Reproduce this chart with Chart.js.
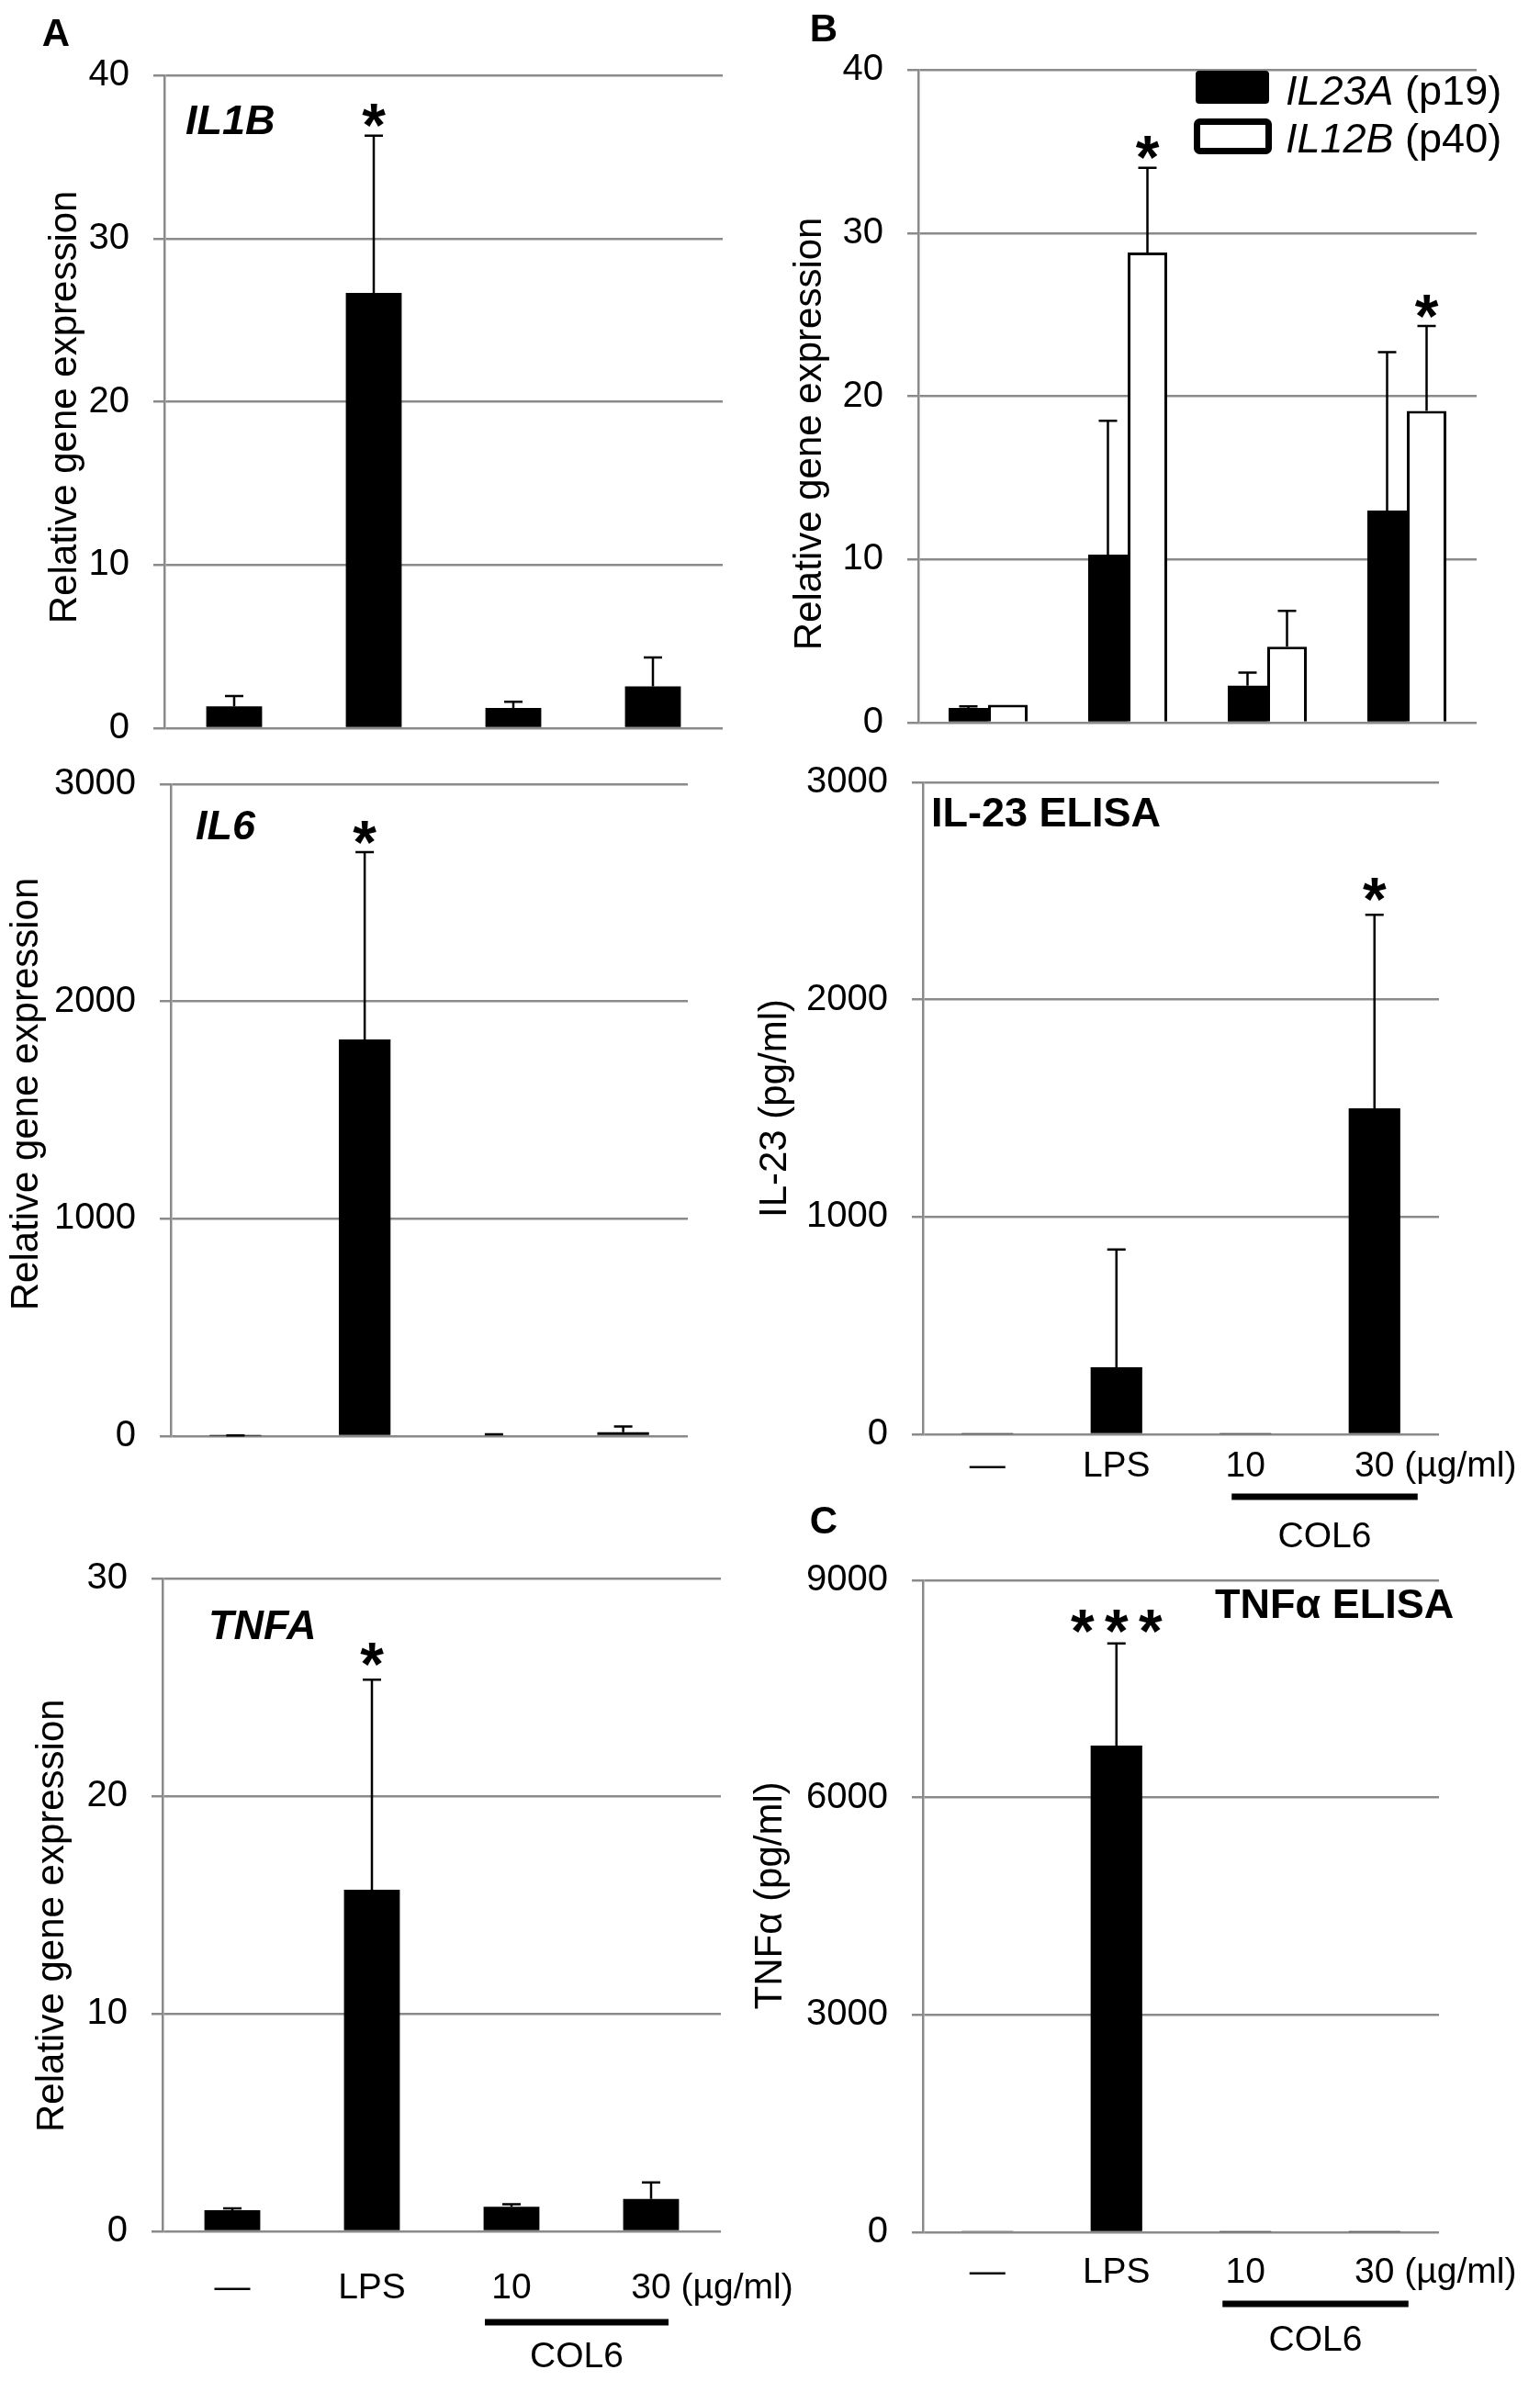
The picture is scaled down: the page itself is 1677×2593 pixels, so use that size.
<!DOCTYPE html>
<html>
<head>
<meta charset="utf-8">
<script src="https://cdn.jsdelivr.net/npm/chart.js@4.4.1/dist/chart.umd.min.js"></script>
<style>
  html, body { margin: 0; padding: 0; background: #fff; }
  body { position: relative; width: 1677px; height: 2593px; overflow: hidden; }
  canvas { position: absolute; }
</style>
</head>
<body>
<canvas id="c1"></canvas>
<canvas id="c2"></canvas>
<canvas id="c3"></canvas>
<canvas id="c4"></canvas>
<canvas id="c5"></canvas>
<canvas id="c6"></canvas>
<script>
// --- Data ---
const groups = ['—', 'LPS', '10', '30'];

const il1bMean = [1.33, 26.66, 1.24, 2.56];
const il1bSd = [0.64, 9.64, 0.38, 1.77];
const il1bSig = ['', '*', '', ''];
const il1bTicks = [0, 10, 20, 30, 40];

const il6Mean = [2, 1825, 5, 18];
const il6Sd = [1, 862, 3, 26];
const il6Sig = ['', '*', '', ''];
const il6Ticks = [0, 1000, 2000, 3000];

const tnfaMean = [0.97, 15.7, 1.13, 1.49];
const tnfaSd = [0.08, 9.65, 0.12, 0.76];
const tnfaSig = ['', '*', '', ''];
const tnfaTicks = [0, 10, 20, 30];

const p19Mean = [0.9, 10.3, 2.26, 13.0];
const p19Sd = [0.1, 8.2, 0.8, 9.7];
const p19Sig = ['', '', '', ''];
const p40Mean = [1.1, 28.8, 4.65, 19.1];
const p40Sd = [0, 5.2, 2.2, 5.2];
const p40Sig = ['', '*', '', '*'];
const il23Ticks = [0, 10, 20, 30, 40];
const legendGene = ['IL23A', 'IL12B'];
const legendSub = [' (p19)', ' (p40)'];

const elisa23Mean = [3, 308, 3, 1500];
const elisa23Sd = [0, 542, 0, 890];
const elisa23Sig = ['', '', '', '*'];
const elisa23Ticks = [0, 1000, 2000, 3000];

const elisaTnfMean = [12, 6717, 8, 8];
const elisaTnfSd = [0, 1413, 0, 0];
const elisaTnfSig = ['', '***', '', ''];
const elisaTnfTicks = [0, 3000, 6000, 9000];

// --- Style ---
const FONT = "'Liberation Sans', Arial, sans-serif";
const GRID = '#8a8a8a';
Chart.defaults.font.family = FONT;
Chart.defaults.color = '#111';

// per panel layout + annotations (px; label/legend offsets relative to chart area)
// paddings next to the y tick labels must stay >= 50 or Chart.js grows them
const panels = {
  c1: { x: 0, y: 0, w: 900, h: 848, yW: 179, padTop: 82, padRight: 113, padBottom: 55,
        title: 'Relative gene expression ', titlePad: 46,
        label: 'IL1B', labelFont: 'italic bold 45px', labelDx: 23, labelDy: 48, starGap: 22,
        letter: 'A', letterX: 61, letterY: 35 },
  c2: { x: 0, y: 799, w: 900, h: 821, yW: 186, padTop: 55, padRight: 151, padBottom: 56,
        title: '   Relative gene expression', titlePad: 4,
        label: 'IL6', labelFont: 'italic bold 45px', labelDx: 27, labelDy: 44, starGap: 22 },
  c3: { x: 0, y: 1620, w: 900, h: 973, yW: 177, padTop: 99, padRight: 115, padBottom: 13,
        showX: true, xH: 150, xPad: 38.6,
        title: 'Relative gene expression  ', titlePad: 32,
        label: 'TNFA', labelFont: 'italic bold 45px', labelDx: 50, labelDy: 50, starGap: 28,
        ulFrom: -29, ulTo: 19, ulDy: 99, colDy: 137 },
  c4: { x: 800, y: 0, w: 877, h: 842, yW: 200, padTop: 76, padRight: 69, padBottom: 55,
        title: 'Relative gene expression       ', titlePad: 57,
        starGap: 22, letter: 'B', letterX: 897, letterY: 30, legend: true },
  c5: { x: 800, y: 797, w: 877, h: 923, yW: 205, padTop: 55, padRight: 110, padBottom: 48,
        showX: true, xH: 110, xPad: 11.6,
        title: 'IL-23 (pg/ml)', titlePad: 19,
        label: 'IL-23 ELISA', labelFont: 'bold 45px', labelDx: 9, labelDy: 32, starGap: 28,
        ulFrom: -15, ulTo: 47, ulDy: 68, colDy: 112,
        letter: 'C', letterX: 897, letterY: 1655 },
  c6: { x: 800, y: 1666, w: 877, h: 927, yW: 205, padTop: 55, padRight: 110, padBottom: 12,
        showX: true, xH: 150, xPad: 20.6,
        title: '  TNFα (pg/ml)', titlePad: 14,
        label: 'TNFα ELISA', labelFont: 'bold 45px', labelDx: 318, labelDy: 25, starGap: 24,
        ulFrom: -25, ulTo: 37, ulDy: 78, colDy: 118 }
};

// text with its cap height centred on cy
function capText(ctx, text, x, cy, font, align) {
  ctx.font = font;
  ctx.textAlign = align || 'left';
  ctx.textBaseline = 'alphabetic';
  const size = parseFloat(font.match(/(\d+(\.\d+)?)px/)[1]);
  ctx.fillText(text, x, cy + size * 0.358);
}

function drawStars(ctx, sig, cx, cy) {
  ctx.font = 'bold 66px ' + FONT;
  ctx.textAlign = 'center';
  ctx.textBaseline = 'alphabetic';
  const m = ctx.measureText('*');
  const base = cy + (m.actualBoundingBoxAscent - m.actualBoundingBoxDescent) / 2;
  const step = 37;
  const n = sig.length;
  for (let k = 0; k < n; k++) {
    ctx.fillText('*', cx + (k - (n - 1) / 2) * step, base);
  }
}

const decorPlugin = {
  id: 'decor',
  afterDatasetsDraw(chart) {
    const p = panels[chart.canvas.id];
    const ctx = chart.ctx;
    const yScale = chart.scales.y;
    ctx.save();
    ctx.fillStyle = '#000';
    ctx.strokeStyle = '#000';
    chart.data.datasets.forEach((ds, di) => {
      const meta = chart.getDatasetMeta(di);
      meta.data.forEach((bar, i) => {
        const sd = ds.sd[i];
        const topY = yScale.getPixelForValue(ds.data[i] + sd);
        if (sd > 0) {
          ctx.lineWidth = 2.5;
          ctx.beginPath();
          ctx.moveTo(bar.x, bar.y);
          ctx.lineTo(bar.x, topY);
          ctx.moveTo(bar.x - 10, topY);
          ctx.lineTo(bar.x + 10, topY);
          ctx.stroke();
        }
        if (ds.sig[i]) drawStars(ctx, ds.sig[i], bar.x, topY - p.starGap);
      });
    });
    ctx.restore();
  },
  afterDraw(chart) {
    const p = panels[chart.canvas.id];
    const ctx = chart.ctx;
    const area = chart.chartArea;
    ctx.save();
    ctx.fillStyle = '#000';

    if (p.label) capText(ctx, p.label, area.left + p.labelDx, area.top + p.labelDy, p.labelFont + ' ' + FONT);
    if (p.letter) capText(ctx, p.letter, p.letterX - p.x, p.letterY - p.y, 'bold 42px ' + FONT, 'center');

    if (p.showX) {
      const xs = chart.scales.x;
      const x3 = xs.getPixelForValue(2);
      const x4 = xs.getPixelForValue(3);
      const labelY = area.bottom + p.xPad + 39 * 1.2 / 2;
      ctx.font = '39px ' + FONT;
      ctx.textBaseline = 'middle';
      ctx.textAlign = 'left';
      ctx.fillText(' (µg/ml)', x4 + ctx.measureText(groups[3]).width / 2, labelY);
      // COL6 bracket
      const u1 = x3 + p.ulFrom, u2 = x4 + p.ulTo;
      ctx.fillRect(u1, area.bottom + p.ulDy - 3.5, u2 - u1, 7);
      ctx.textAlign = 'center';
      ctx.fillText('COL6', (u1 + u2) / 2, area.bottom + p.colDy);
    }

    if (p.legend) {
      const lx = area.left, ly = area.top;
      ctx.beginPath();
      ctx.roundRect(lx + 302, ly + 1, 80, 36, 4);
      ctx.fill();
      ctx.fillStyle = '#fff';
      ctx.strokeStyle = '#000';
      ctx.lineWidth = 7;
      ctx.beginPath();
      ctx.roundRect(lx + 303.5, ly + 56.5, 78, 32, 3);
      ctx.fill();
      ctx.stroke();
      ctx.fillStyle = '#000';
      [22, 74].forEach((dy, k) => {
        capText(ctx, legendGene[k], lx + 400, ly + dy, 'italic 45px ' + FONT);
        const w = ctx.measureText(legendGene[k]).width;
        capText(ctx, legendSub[k], lx + 400 + w, ly + dy, '45px ' + FONT);
      });
    }
    ctx.restore();
  }
};

function makeChart(id, datasets, ticks, barOpts) {
  const p = panels[id];
  const cv = document.getElementById(id);
  cv.width = p.w;
  cv.height = p.h;
  cv.style.left = p.x + 'px';
  cv.style.top = p.y + 'px';
  cv.style.width = p.w + 'px';
  cv.style.height = p.h + 'px';
  datasets.forEach(ds => Object.assign(ds, barOpts));
  return new Chart(cv, {
    type: 'bar',
    data: { labels: groups, datasets: datasets },
    options: {
      responsive: false,
      animation: false,
      devicePixelRatio: 1,
      layout: { padding: { left: 0, top: p.padTop, right: p.padRight, bottom: p.padBottom } },
      plugins: { legend: { display: false }, tooltip: { enabled: false } },
      scales: {
        x: {
          display: !!p.showX,
          offset: true,
          grid: { display: false, drawTicks: false },
          border: { display: false },
          ticks: { color: '#000', font: { size: 39 }, padding: p.xPad || 0, maxRotation: 0, autoSkip: false },
          afterFit: s => { s.height = p.showX ? p.xH : 0; }
        },
        y: {
          min: 0,
          max: ticks[ticks.length - 1],
          afterBuildTicks: s => { s.ticks = ticks.map(v => ({ value: v })); },
          grid: { color: GRID, lineWidth: 2.5, tickLength: 12 },
          border: { color: GRID, width: 2.5 },
          ticks: { color: '#000', font: { size: 40 }, padding: 26, callback: v => String(v) },
          title: { display: true, text: p.title, color: '#000', font: { size: 42 }, padding: { top: p.titlePad, bottom: 0 } },
          afterFit: s => { s.width = p.yW; }
        }
      }
    },
    plugins: [decorPlugin]
  });
}

const single = { backgroundColor: '#000', borderWidth: 0, barPercentage: 0.4, categoryPercentage: 1 };

makeChart('c1', [{ data: il1bMean, sd: il1bSd, sig: il1bSig }], il1bTicks, single);
makeChart('c2', [{ data: il6Mean, sd: il6Sd, sig: il6Sig }], il6Ticks, single);
makeChart('c3', [{ data: tnfaMean, sd: tnfaSd, sig: tnfaSig }], tnfaTicks, single);
makeChart('c4', [
  { data: p19Mean, sd: p19Sd, sig: p19Sig, backgroundColor: '#000', borderWidth: 0 },
  { data: p40Mean, sd: p40Sd, sig: p40Sig, backgroundColor: '#fff', borderColor: '#000', borderWidth: 3 }
], il23Ticks, { barPercentage: 1, categoryPercentage: 0.566 });
makeChart('c5', [{ data: elisa23Mean, sd: elisa23Sd, sig: elisa23Sig }], elisa23Ticks, single);
makeChart('c6', [{ data: elisaTnfMean, sd: elisaTnfSd, sig: elisaTnfSig }], elisaTnfTicks, single);
</script>
</body>
</html>
